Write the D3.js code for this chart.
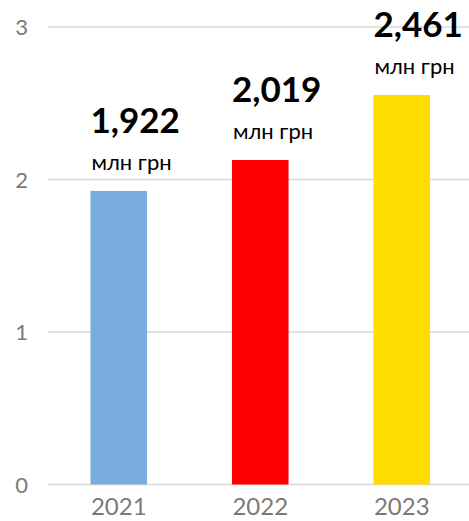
<!DOCTYPE html>
<html><head><meta charset="utf-8">
<script src="https://cdn.jsdelivr.net/npm/d3@7"></script>
<style>body{margin:0;background:#fff}svg{display:block}</style>
</head><body>
<svg id="c" width="469" height="521"></svg>
<script>
const categories = ["2021", "2022", "2023"];
const values = [1.925, 2.128, 2.554];
const valueLabels = ["1,922", "2,019", "2,461"];
const unitLabel = "млн грн";
const colors = ["#7aacdd", "#ff0000", "#ffdc00"];
const yTicks = [0, 1, 2, 3];

const svg = d3.select("#c");
const x = d3.scaleBand().domain(categories).range([48, 472.5]).paddingInner(0.6).paddingOuter(0.3);
const y = d3.scaleLinear().domain([0, 3]).range([484.5, 27]);

// gridlines
svg.append("g").selectAll("line").data(yTicks).join("line")
  .attr("x1", 48).attr("x2", 469)
  .attr("y1", d => y(d)).attr("y2", d => y(d))
  .attr("stroke", "#d9d9d9").attr("stroke-width", 1.5);

// y labels
svg.append("g").selectAll("text").data(yTicks).join("text")
  .attr("x", 28).attr("y", d => y(d) + 8)
  .attr("text-anchor", "end")
  .attr("font-family", "Lato, 'Open Sans', sans-serif")
  .attr("font-size", 22).attr("fill", "#7a7a7a")
  .text(d => d);

// bars
svg.append("g").selectAll("rect").data(values).join("rect")
  .attr("x", (d, i) => x(categories[i]))
  .attr("width", x.bandwidth())
  .attr("y", d => y(d))
  .attr("height", d => y(0) - y(d))
  .attr("fill", (d, i) => colors[i]);

// x labels
svg.append("g").selectAll("text").data(categories).join("text")
  .attr("x", d => x(d) + x.bandwidth() / 2).attr("y", 515)
  .attr("text-anchor", "middle")
  .attr("font-family", "Lato, 'Open Sans', sans-serif")
  .attr("font-size", 24).attr("fill", "#7a7a7a")
  .text(d => d);

// value labels
const lg = svg.append("g");
lg.selectAll("text.v").data(values).join("text").attr("class", "v")
  .attr("x", (d, i) => x(categories[i]))
  .attr("y", d => y(d) - 58)
  .attr("font-family", "Lato, 'Open Sans', sans-serif")
  .attr("font-weight", "bold")
  .attr("font-size", 35).attr("fill", "#000")
  .text((d, i) => valueLabels[i]);
lg.selectAll("text.u").data(values).join("text").attr("class", "u")
  .attr("x", (d, i) => x(categories[i]) + 1)
  .attr("y", d => y(d) - 21)
  .attr("font-family", "Lato, 'Open Sans', sans-serif")
  .attr("font-size", 22).attr("fill", "#000")
  .text(unitLabel);
</script>
</body></html>
